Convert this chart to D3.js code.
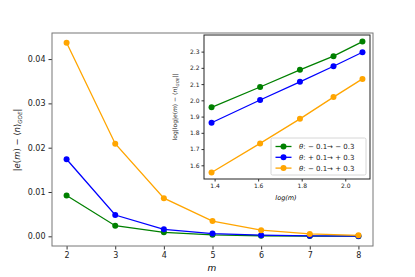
<!DOCTYPE html>
<html>
<head>
<meta charset="utf-8">
<script src="https://cdn.jsdelivr.net/npm/d3@7"></script>
<style>
body{margin:0;background:#fff;}
svg{font-family:"DejaVu Sans",sans-serif;}
</style>
</head>
<body>
<svg id="chart" width="415" height="277"></svg>
<script>
// main plot data
var mValues = [2, 3, 4, 5, 6, 7, 8];
var greenErr  = [0.0092, 0.0024, 0.0009, 0.00034, 0.00013, 0.00006, 0.00003];
var blueErr   = [0.0174, 0.0048, 0.00157, 0.00062, 0.00025, 0.00011, 0.00005];
var orangeErr = [0.0437, 0.0209, 0.0086, 0.00345, 0.00138, 0.00053, 0.00022];
var mainYTicks = [0.00, 0.01, 0.02, 0.03, 0.04];

// inset data (log-log)
var logM = [1.386, 1.609, 1.792, 1.946, 2.079];
var greenLog  = [1.957, 2.082, 2.188, 2.272, 2.362];
var blueLog   = [1.862, 2.002, 2.114, 2.210, 2.296];
var orangeLog = [1.556, 1.735, 1.886, 2.020, 2.132];
var insetXTicks = [1.4, 1.6, 1.8, 2.0];
var insetYTicks = [1.6, 1.7, 1.8, 1.9, 2.0, 2.1, 2.2, 2.3];
var seriesNames = ["\u2212 0.1\u2192 \u2212 0.3", "+ 0.1\u2192 + 0.3", "\u2212 0.1\u2192 + 0.3"];
var colors = ["green", "blue", "orange"];

var svg = d3.select("#chart");

function pad(ext){
    var r = ext[1]-ext[0];
    return [ext[0]-0.05*r, ext[1]+0.05*r];
}

function drawSeries(g, xs, ys, x, y, color, r){
    var pts = xs.map(function(v,i){ return [v, ys[i]]; });
    var line = d3.line().x(function(d){return x(d[0]);}).y(function(d){return y(d[1]);});
    g.append("path").attr("d", line(pts)).attr("fill","none")
        .attr("stroke", color).attr("stroke-width", 1.3);
    g.selectAll(null).data(pts).enter().append("circle")
        .attr("cx", function(d){return x(d[0]);})
        .attr("cy", function(d){return y(d[1]);})
        .attr("r", r).attr("fill", color);
}

// label with math-like italics
function mathLabel(t, prefix, subSize, subShift, suffix){
    t.append("tspan").text(prefix);
    t.append("tspan").attr("font-style","italic").text("e");
    t.append("tspan").text("(");
    t.append("tspan").attr("font-style","italic").text("m");
    t.append("tspan").text(") \u2212 \u27e8");
    t.append("tspan").attr("font-style","italic").text("n");
    t.append("tspan").text("\u27e9");
    t.append("tspan").attr("font-size",subSize).attr("dy",subShift).attr("font-style","italic").text("GOE");
    t.append("tspan").attr("dy",-subShift).text(suffix);
}

// ---- main axes
var mx = d3.scaleLinear().domain(pad(d3.extent(mValues))).range([52, 373]);
var allErr = greenErr.concat(blueErr, orangeErr);
var my = d3.scaleLinear().domain(pad([0, d3.max(allErr)])).range([246, 33]);

var main = svg.append("g");
[[greenErr,"green"],[blueErr,"blue"],[orangeErr,"orange"]].forEach(function(s){
    drawSeries(main, mValues, s[0], mx, my, s[1], 3);
});

var xAx = main.append("g").attr("transform","translate(0,246)")
    .call(d3.axisBottom(mx).tickValues(mValues).tickSize(3.5).tickPadding(3).tickFormat(d3.format("d")));
var yAx = main.append("g").attr("transform","translate(52,0)")
    .call(d3.axisLeft(my).tickValues(mainYTicks).tickSize(3.5).tickPadding(3).tickFormat(d3.format(".2f")));
[xAx, yAx].forEach(function(a){
    a.select(".domain").remove();
    a.selectAll("text").attr("font-size", 8).attr("fill","#222").attr("font-family","DejaVu Sans");
    a.selectAll("line").attr("stroke","#333");
});
main.append("rect").attr("x",52).attr("y",33).attr("width",321).attr("height",213)
    .attr("fill","none").attr("stroke","#777").attr("stroke-width",1);

main.append("text").attr("x", 212).attr("y", 271).attr("text-anchor","middle")
    .attr("font-size", 9).attr("font-style","italic").text("m");

var yl = main.append("text").attr("transform","translate(20,140) rotate(-90)")
    .attr("text-anchor","middle").attr("font-size", 8.5).attr("fill","#222");
mathLabel(yl, "|", 5.5, 2, "|");

// ---- inset axes
var ix = d3.scaleLinear().domain(pad(d3.extent(logM))).range([204, 370]);
var allLog = greenLog.concat(blueLog, orangeLog);
var iy = d3.scaleLinear().domain(pad(d3.extent(allLog))).range([179, 35]);

var inset = svg.append("g");
inset.append("rect").attr("x",204).attr("y",35).attr("width",166).attr("height",144)
    .attr("fill","#fff");
[[greenLog,"green"],[blueLog,"blue"],[orangeLog,"orange"]].forEach(function(s){
    drawSeries(inset, logM, s[0], ix, iy, s[1], 3);
});
var ixAx = inset.append("g").attr("transform","translate(0,179)")
    .call(d3.axisBottom(ix).tickValues(insetXTicks).tickSize(2.5).tickPadding(2).tickFormat(d3.format(".1f")));
var iyAx = inset.append("g").attr("transform","translate(204,0)")
    .call(d3.axisLeft(iy).tickValues(insetYTicks).tickSize(2.5).tickPadding(2).tickFormat(d3.format(".1f")));
[ixAx, iyAx].forEach(function(a){
    a.select(".domain").remove();
    a.selectAll("text").attr("font-size", 6).attr("fill","#222").attr("font-family","DejaVu Sans");
    a.selectAll("line").attr("stroke","#333");
});
inset.append("rect").attr("x",204).attr("y",35).attr("width",166).attr("height",144)
    .attr("fill","none").attr("stroke","#222").attr("stroke-width",1);

inset.append("text").attr("x", 286).attr("y", 200).attr("text-anchor","middle")
    .attr("font-size", 6.5).attr("font-style","italic").text("log(m)");

var il = inset.append("text").attr("transform","translate(177,107) rotate(-90)")
    .attr("text-anchor","middle").attr("font-size", 6).attr("fill","#222");
mathLabel(il, "log|log|", 4, 1.5, "||");

// legend
var leg = inset.append("g").attr("transform","translate(271,138)");
leg.append("rect").attr("width",95).attr("height",37).attr("rx",1.5)
    .attr("fill","#fff").attr("fill-opacity",0.8).attr("stroke","#ccc").attr("stroke-width",0.8);
seriesNames.forEach(function(name, i){
    var row = leg.append("g").attr("transform","translate(0," + (8.5 + i*10.8) + ")");
    row.append("line").attr("x1",4.5).attr("x2",20.5).attr("y1",0).attr("y2",0)
        .attr("stroke",colors[i]).attr("stroke-width",1.3);
    row.append("circle").attr("cx",12.5).attr("cy",0).attr("r",3).attr("fill",colors[i]);
    var t = row.append("text").attr("x",28).attr("y",2.4).attr("font-size",7).attr("fill","#222");
    t.append("tspan").attr("font-style","italic").text("\u03b8");
    t.append("tspan").text(": " + name);
});
</script>
</body>
</html>
